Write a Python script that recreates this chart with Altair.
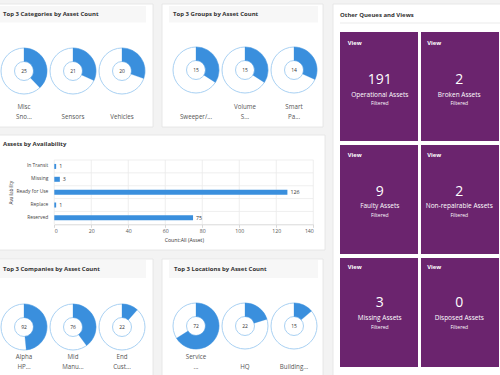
import math
import altair as alt
import pandas as pd

# ---------------- data ----------------
cat_names = ["Misc\nSno...", "Sensors", "Vehicles"]
cat_counts = [25, 21, 20]
group_names = ["Sweeper/...", "Volume\nS...", "Smart\nPa..."]
group_counts = [15, 15, 14]
company_names = ["Alpha\nHP...", "Mid\nManu...", "End\nCust..."]
company_counts = [92, 76, 22]
location_names = ["Service\n...", "HQ", "Building..."]
location_counts = [72, 22, 15]

avail_labels = ["In Transit", "Missing", "Ready for Use", "Replace", "Reserved"]
avail_counts = [1, 3, 126, 1, 75]
x_ticks = [0, 20, 40, 60, 80, 100, 120, 140]

view_names = ["Operational Assets", "Broken Assets", "Faulty Assets",
              "Non-repairable Assets", "Missing Assets", "Disposed Assets"]
view_counts = [191, 2, 9, 2, 3, 0]

panel_titles = ["Top 3 Categories by Asset Count", "Top 3 Groups by Asset Count",
                "Assets by Availability", "Top 3 Companies by Asset Count",
                "Top 3 Locations by Asset Count", "Other Queues and Views"]

# ---------------- styles / layout ----------------
FONT = "Open Sans"
BLUE = "#3a8fdd"
LIGHT = "#a9d1f3"
PURPLE = "#6b246e"
W, H = 500, 375

card_layout = pd.DataFrame({
    "x0": [-7, 162, -7, -7, 162, 333],
    "x1": [153, 323, 325, 153, 323, 505],
    "y0": [4, 4, 135, 259, 259, 4],
    "y1": [127, 127, 250, 380, 380, 380],
})
band_layout = pd.DataFrame({
    "x0": [-1, 169, -1, 169],
    "x1": [146, 318, 146, 318],
    "y0": [6, 6, 260, 260],
    "y1": [22.5, 22.5, 278, 278],
})
title_layout = pd.DataFrame({
    "text": panel_titles,
    "x": [3, 173, 3, 3, 174, 340],
    "y": [14, 14, 144, 269, 269, 15],
})

xid = alt.Scale(domain=[0, W], range=[0, W], nice=False, zero=False)
yid = alt.Scale(domain=[0, H], range=[0, H], nice=False, zero=False)

layers = []

layers.append(alt.Chart(card_layout).mark_rect(fill="white", stroke="#e2e2e2", strokeWidth=0.8).encode(
    x=alt.X("x0:Q", scale=xid, axis=None), x2="x1:Q",
    y=alt.Y("y0:Q", scale=yid, axis=None), y2="y1:Q"))
layers.append(alt.Chart(band_layout).mark_rect(fill="#f7f7f7").encode(
    x=alt.X("x0:Q", scale=xid, axis=None), x2="x1:Q",
    y=alt.Y("y0:Q", scale=yid, axis=None), y2="y1:Q"))
layers.append(alt.Chart(pd.DataFrame({"x0": [340], "x1": [500], "y": [23]})).mark_rule(
    color="#e6e6e6", strokeWidth=0.8).encode(
    x=alt.X("x0:Q", scale=xid, axis=None), x2="x1:Q",
    y=alt.Y("y:Q", scale=yid, axis=None)))
layers.append(alt.Chart(title_layout).mark_text(
    align="left", baseline="middle", font=FONT, fontSize=6.0, fontWeight="bold", color="#333333").encode(
    x=alt.X("x:Q", scale=xid, axis=None), y=alt.Y("y:Q", scale=yid, axis=None), text="text:N"))

# ---------------- donut panels ----------------
R_OUT, R_IN = 23, 9.5
theta_scale = alt.Scale(domain=[0, 1], range=[0, 2 * math.pi])


def donut_panel(names, counts, xrange, cy, label_y):
    df = pd.DataFrame({"name": names, "count": counts})
    base = alt.Chart(df).transform_joinaggregate(total="sum(count)").transform_calculate(
        frac="datum.count / datum.total", zero="0", one="1",
        line1="length(split(datum.name, '\\n')) > 1 ? split(datum.name, '\\n')[0] : ''",
        line2="split(datum.name, '\\n')[length(split(datum.name, '\\n')) - 1]")
    xenc = alt.X("name:N", sort=names,
                 scale=alt.Scale(type="point", domain=names, range=xrange, padding=0),
                 axis=None)
    ring = base.mark_arc(radius=R_OUT, radius2=R_IN, fill="white", stroke=LIGHT,
                         strokeWidth=1).encode(
        x=xenc, y=alt.value(cy),
        theta=alt.Theta("zero:Q", scale=theta_scale), theta2="one:Q")
    filled = base.mark_arc(radius=R_OUT, radius2=R_IN, fill=BLUE, stroke=BLUE,
                           strokeWidth=0.3).encode(
        x=xenc, y=alt.value(cy),
        theta=alt.Theta("zero:Q", scale=theta_scale), theta2="frac:Q")
    num = base.mark_text(font=FONT, fontSize=5, color="#333333", baseline="middle").encode(
        x=xenc, y=alt.value(cy), text="count:Q")
    lab1 = base.mark_text(font=FONT, fontSize=6.2, color="#555555", baseline="middle").encode(
        x=xenc, y=alt.value(label_y - 10), text="line1:N")
    lab2 = base.mark_text(font=FONT, fontSize=6.2, color="#555555", baseline="middle").encode(
        x=xenc, y=alt.value(label_y), text="line2:N")
    return [ring, filled, num, lab1, lab2]


layers += donut_panel(cat_names, cat_counts, [24, 122], 71, 117)
layers += donut_panel(group_names, group_counts, [196, 294], 70, 117)
layers += donut_panel(company_names, company_counts, [24, 122], 327, 367)
layers += donut_panel(location_names, location_counts, [196, 294], 326, 367)

# ---------------- bar panel ----------------
BX0, BX1 = 54.3, 313.3
BY0, BY1 = 160, 224.3
avail_df = pd.DataFrame({"status": avail_labels, "count": avail_counts})
xs = alt.Scale(domain=[0, 140], range=[BX0, BX1], nice=False, zero=False)
ys = alt.Scale(domain=avail_labels, range=[BY0, BY1], paddingInner=0, paddingOuter=0)

bar_base = alt.Chart(avail_df)
layers.append(bar_base.mark_rule(color="#ebebeb", strokeWidth=0.8).encode(
    y=alt.Y("status:N", sort=avail_labels, scale=ys, bandPosition=0, axis=None),
    x=alt.value(BX0), x2=alt.value(BX1)))
layers.append(alt.Chart(pd.DataFrame({"t": x_ticks})).mark_rule(color="#ebebeb", strokeWidth=0.8).encode(
    x=alt.X("t:Q", scale=xs, axis=None), y=alt.value(BY0), y2=alt.value(BY1)))
layers.append(bar_base.mark_bar(size=5, color=BLUE).encode(
    x=alt.X("count:Q", scale=xs, axis=alt.Axis(
        orient="bottom", offset=BY1 - H, values=x_ticks, grid=False, zindex=2,
        domainColor="#d9d9d9", tickColor="#d9d9d9", tickSize=3,
        labelFont=FONT, labelFontSize=5.2, labelColor="#555555", labelPadding=1.5,
        title="Count:All (Asset)", titleFont=FONT, titleFontSize=5.2,
        titleFontWeight="normal", titleColor="#333333",
        titleBaseline="middle", titleY=14.7)),
    y=alt.Y("status:N", sort=avail_labels, scale=ys, axis=alt.Axis(
        orient="left", offset=-BX0, grid=False, ticks=False, domain=False, zindex=2,
        labelFont=FONT, labelFontSize=4.9, labelColor="#444444", labelPadding=6.5,
        title="Availability", titleFont=FONT, titleFontSize=4.8,
        titleFontWeight="normal", titleColor="#333333",
        titleBaseline="middle", titleX=11.2 - BX0))))
layers.append(bar_base.mark_text(align="left", dx=3, font=FONT, fontSize=5.3,
                                 color="#333333", baseline="middle").encode(
    x=alt.X("count:Q", scale=xs, axis=None),
    y=alt.Y("status:N", sort=avail_labels, scale=ys, axis=None),
    text="count:Q"))

# ---------------- tiles ----------------
tile_df = pd.DataFrame({
    "name": view_names,
    "count": view_counts,
    "col": [i % 2 for i in range(len(view_names))],
    "row": [i // 2 for i in range(len(view_names))],
    "view": ["View"] * len(view_names),
    "sub": ["Filtered"] * len(view_names),
})
txs = alt.Scale(domain=[0, 1], range=[340, 499], paddingInner=0.037, paddingOuter=0)
tys = alt.Scale(domain=[0, 1, 2], range=[32, 367], paddingInner=0.0354, paddingOuter=0)
tx = alt.X("col:O", scale=txs, axis=None)
ty = alt.Y("row:O", scale=tys, axis=None)
tb = alt.Chart(tile_df)
layers.append(tb.mark_rect(color=PURPLE).encode(x=tx, y=ty))
layers.append(tb.mark_text(align="left", baseline="middle", dx=-32, dy=-44.5, font=FONT,
                           fontSize=5.8, fontWeight="bold", color="white").encode(x=tx, y=ty, text="view:N"))
layers.append(tb.mark_text(baseline="middle", dy=-8, font=FONT, fontSize=14,
                           color="white").encode(x=tx, y=ty, text="count:Q"))
layers.append(tb.mark_text(baseline="middle", dy=6.8, font=FONT, fontSize=6.5,
                           color="white").encode(x=tx, y=ty, text="name:N"))
layers.append(tb.mark_text(baseline="middle", dy=15.5, font=FONT, fontSize=5,
                           color="white").encode(x=tx, y=ty, text="sub:N"))

chart = alt.layer(*layers).resolve_scale(
    x="independent", y="independent"
).properties(
    width=W, height=H, padding=0, autosize="none", background="#f3f3f3"
).configure_view(strokeWidth=0)

chart.save("out.html", embed_options={"renderer": "svg", "actions": False})
